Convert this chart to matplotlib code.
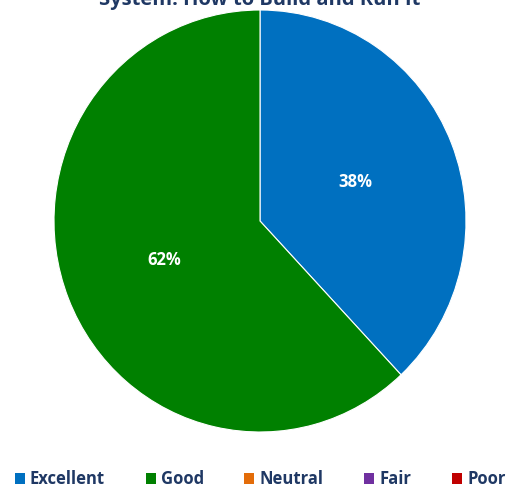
import matplotlib.pyplot as plt
from matplotlib.patches import Patch

plt.rcParams['font.family'] = ['Open Sans', 'DejaVu Sans']

categories = ["Excellent", "Good", "Neutral", "Fair", "Poor"]
values = [38, 62, 0, 0, 0]
colors = ["#0070C0", "#008000", "#E36C09", "#7030A0", "#C00000"]
title = "System: How to Build and Run It"
text_color = "#1F3864"

fig = plt.figure(figsize=(5.2, 4.91), dpi=100)
ax = fig.add_axes([54 / 520, 59 / 491, 412 / 520, 422 / 491])

shown = [(v, c) for v, c in zip(values, colors) if v > 0]
wedges, texts, autotexts = ax.pie(
    [v for v, c in shown], colors=[c for v, c in shown],
    startangle=90, counterclock=False, autopct='%1.0f%%', pctdistance=0.5,
    wedgeprops=dict(edgecolor='white', linewidth=0.8),
    textprops=dict(color='white', fontsize=12, fontweight='bold'))
ax.set_aspect('auto')
ax.set_xlim(-1, 1)
ax.set_ylim(-1, 1)

fig.text(0.5, 1 - 5 / 491, title, ha='center', va='baseline',
         fontsize=14.5, fontweight='bold', color=text_color)

handles = [Patch(facecolor=c, edgecolor='none') for c in colors]
leg = fig.legend(handles, categories, loc='lower center', ncol=5,
                 bbox_to_anchor=(0.5, -0.025), frameon=False,
                 handlelength=0.6, handleheight=0.6, handletextpad=0.3,
                 columnspacing=2.45, prop=dict(size=12, weight='bold'))
for t in leg.get_texts():
    t.set_color(text_color)

fig.savefig("out.png", dpi=100)
